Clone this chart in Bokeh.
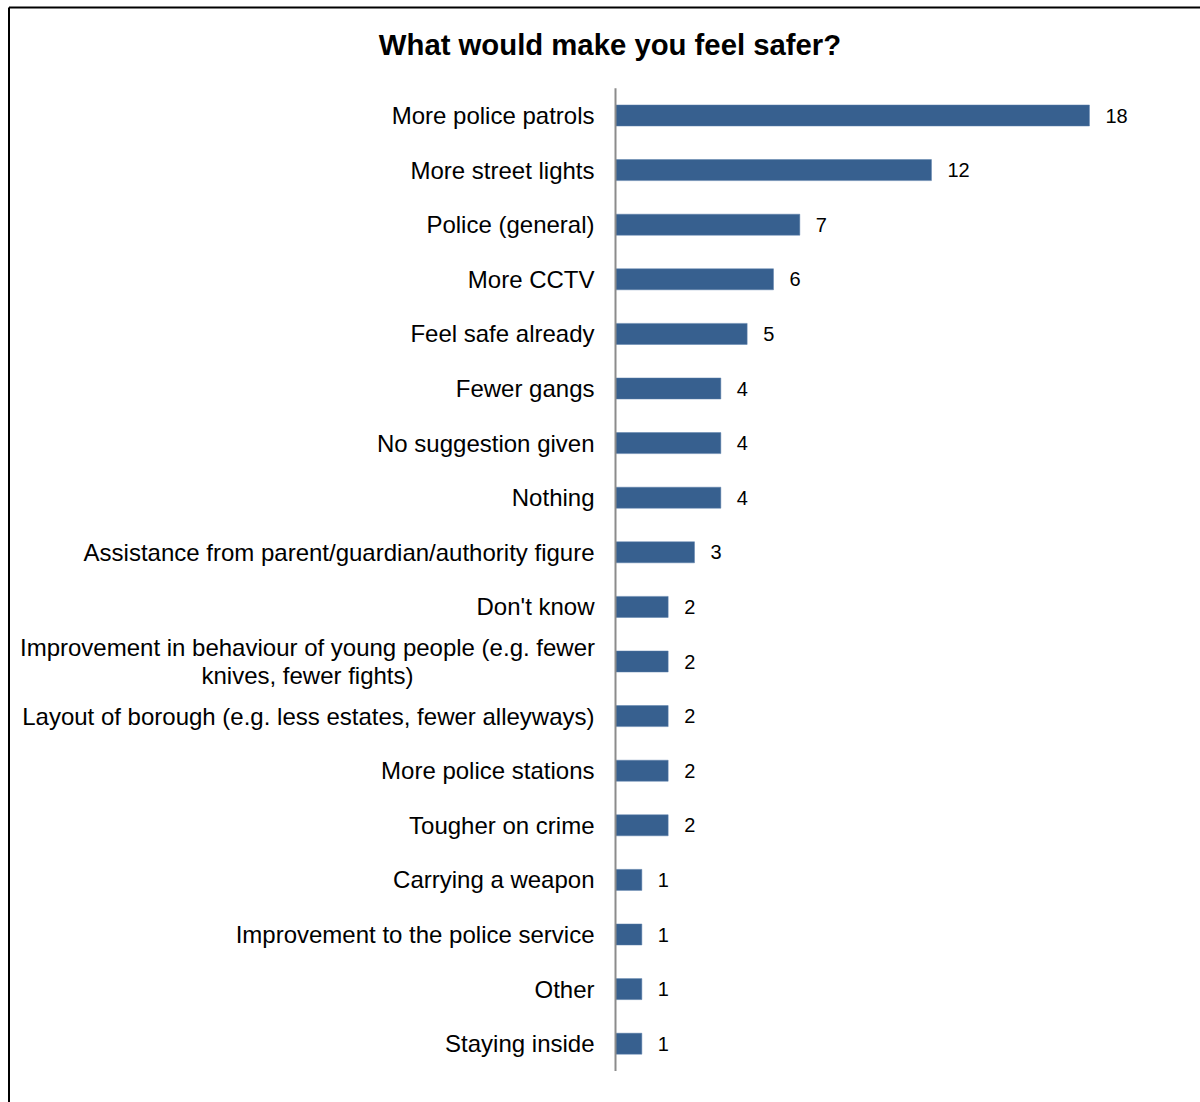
from bokeh.plotting import figure
from bokeh.models import ColumnDataSource, Range1d
from bokeh.core.properties import value
from bokeh.embed import file_html
from bokeh.resources import INLINE

title_text = "What would make you feel safer?"
categories = [
    "More police patrols",
    "More street lights",
    "Police (general)",
    "More CCTV",
    "Feel safe already",
    "Fewer gangs",
    "No suggestion given",
    "Nothing",
    "Assistance from parent/guardian/authority figure",
    "Don't know",
    "Improvement in behaviour of young people (e.g. fewer\nknives, fewer fights)",
    "Layout of borough (e.g. less estates, fewer alleyways)",
    "More police stations",
    "Tougher on crime",
    "Carrying a weapon",
    "Improvement to the police service",
    "Other",
    "Staying inside",
]
values = [18, 12, 7, 6, 5, 4, 4, 4, 3, 2, 2, 2, 2, 2, 1, 1, 1, 1]

W, H = 1200, 1102
AXIS_PX = 615.0
UNIT_PX = 26.33
ROW_PX = 54.6
FIRST_ROW_PX = 115.0

ypos = [-i for i in range(len(categories))]
aligns = ["center" if "\n" in c else "right" for c in categories]
xoffs = [-308 if "\n" in c else -21 for c in categories]

src = ColumnDataSource(dict(cat=categories, val=values, y=ypos,
                            align=aligns, xoff=xoffs,
                            vlab=[str(v) for v in values],
                            zero=[0] * len(values)))

x_start = -AXIS_PX / UNIT_PX
x_end = (W - AXIS_PX) / UNIT_PX
y_end = FIRST_ROW_PX / ROW_PX
y_start = y_end - H / ROW_PX

p = figure(width=W, height=H, output_backend="svg", toolbar_location=None,
           x_range=Range1d(x_start, x_end), y_range=Range1d(y_start, y_end),
           min_border=0, min_border_left=0, min_border_right=0,
           min_border_top=0, min_border_bottom=0)
p.axis.visible = False
p.grid.visible = False
p.outline_line_color = None
p.background_fill_color = "white"
p.border_fill_color = "white"

# chart border (left and top edges visible)
bx = (8.5 - AXIS_PX) / UNIT_PX
by = y_end - 7.0 / ROW_PX
p.segment(x0=[bx, bx], y0=[by, by], x1=[x_end + 1, bx], y1=[by, y_start - 1],
          line_color="black", line_width=2)

p.hbar(y="y", left=0, right="val", height=0.385, source=src,
       fill_color="#37608f", line_color="#5a7eaa", line_width=0.5)

# vertical category axis line
n = len(categories)
p.segment(x0=[0], y0=[0.5], x1=[0], y1=[-(n - 1) - 0.5],
          line_color="#8c8c8c", line_width=2)

p.text(x="zero", y="y", text="cat", source=src, x_offset="xoff",
       text_align="align", text_baseline="middle",
       text_font=value("Liberation Sans"), text_font_size="24px",
       text_color="black", text_line_height=1.05)

p.text(x="val", y="y", text="vlab", source=src, x_offset=16,
       text_align="left", text_baseline="middle",
       text_font=value("Liberation Sans"), text_font_size="20px",
       text_color="black")

p.text(x=[(609.5 - AXIS_PX) / UNIT_PX], y=[y_end - 44 / ROW_PX], text=[title_text],
       text_align="center", text_baseline="middle",
       text_font=value("Liberation Sans"), text_font_style="bold",
       text_font_size="29.3px", text_color="black")

open("out.html", "w").write(file_html(p, INLINE))
